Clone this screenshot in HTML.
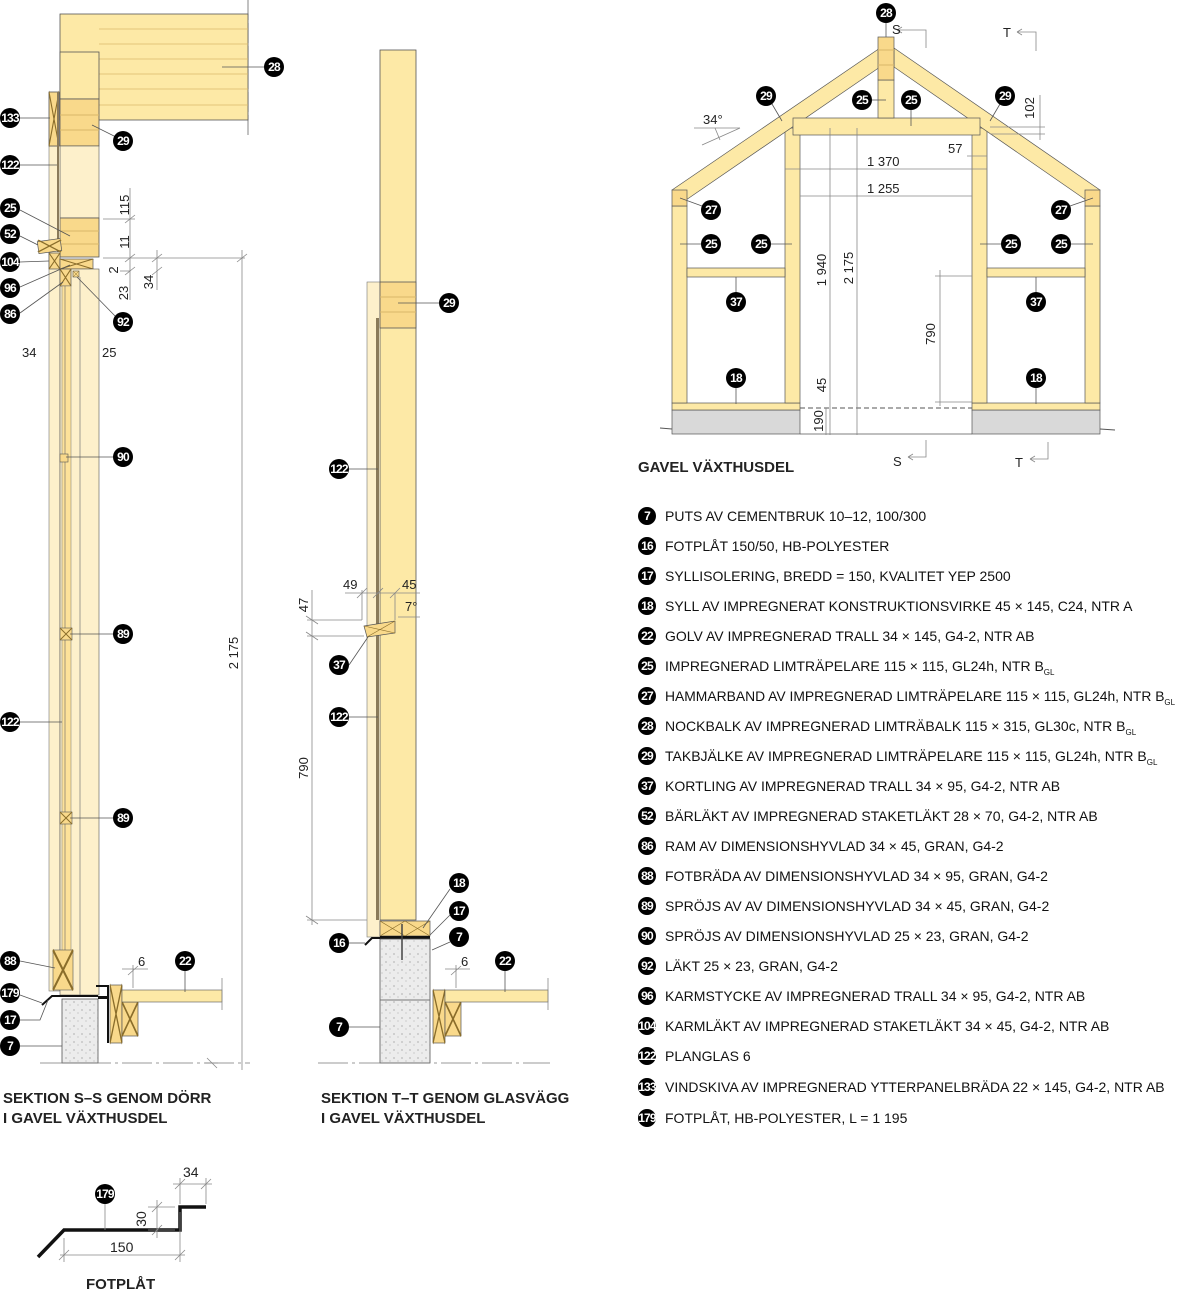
<!DOCTYPE html>
<html><head><meta charset="utf-8"><style>
html,body{margin:0;padding:0;background:#fff}
svg{display:block}
text{font-family:"Liberation Sans",sans-serif}
.n{fill:#000}
.nt{fill:#fff;font-weight:bold;font-size:12px;text-anchor:middle;letter-spacing:-0.8px}
.d{stroke:#888;stroke-width:0.8;fill:none}
.dt{font-size:13px;fill:#222}
.o{stroke:#555;stroke-width:0.8}
.lg{font-size:14px;fill:#111}
.t{font-size:15px;font-weight:bold;fill:#222}
.l{stroke:#333;stroke-width:0.8;fill:none}
</style></head><body>
<svg width="1200" height="1298" viewBox="0 0 1200 1298" xmlns="http://www.w3.org/2000/svg">
<defs>
<pattern id="conc" width="8" height="8" patternUnits="userSpaceOnUse"><rect width="8" height="8" fill="#ececec"/><circle cx="2" cy="2" r="0.6" fill="#888"/><circle cx="6" cy="5" r="0.5" fill="#999"/></pattern>
<g id="xb"><path d="M0 0L1 1M1 0L0 1" stroke="#8a6d2a" stroke-width="0.08"/></g>
</defs>

<!-- ===== SECTION S-S ===== -->
<line x1="248" y1="0" x2="248" y2="135" stroke="#666" stroke-width="0.8" stroke-dasharray="20 3"/>
<rect x="60" y="14" width="188" height="106" fill="#fde9a6" stroke="#555" stroke-width="0.8"/>
<g stroke="#d9b86a" stroke-width="0.7"><line x1="99" y1="29" x2="248" y2="29"/><line x1="99" y1="44" x2="248" y2="44"/><line x1="99" y1="59" x2="248" y2="59"/><line x1="99" y1="74" x2="248" y2="74"/><line x1="99" y1="89" x2="248" y2="89"/><line x1="99" y1="105" x2="248" y2="105"/></g>
<rect x="60" y="52" width="39" height="47" fill="#fde9a6" stroke="#555" stroke-width="0.8"/>
<rect x="60" y="99" width="39" height="47" fill="#f9d98b" stroke="#555" stroke-width="0.8"/>
<line x1="60" y1="115" x2="99" y2="115" stroke="#d9b86a"/><line x1="60" y1="130" x2="99" y2="130" stroke="#d9b86a"/>
<rect x="60" y="146" width="39" height="72" fill="#fdf0cb" stroke="#555" stroke-width="0.6"/>
<rect x="60" y="218" width="39" height="39" fill="#f9d98b" stroke="#555" stroke-width="0.8"/>
<line x1="60" y1="231" x2="99" y2="231" stroke="#d9b86a"/><line x1="60" y1="244" x2="99" y2="244" stroke="#d9b86a"/>
<rect x="49" y="146" width="11" height="845" fill="#fdf0cb" stroke="#777" stroke-width="0.6"/>
<rect x="49" y="92" width="10" height="54" fill="#f9d98b" stroke="#555" stroke-width="0.8"/>
<use href="#xb" transform="translate(49,92) scale(10,54)"/>
<rect x="57" y="92" width="2" height="160" fill="#8a7a5a"/>
<rect x="38" y="240" width="23" height="12" fill="#f9d98b" stroke="#555" stroke-width="0.7" transform="rotate(-8 50 246)"/>
<use href="#xb" transform="translate(38,240) scale(23,12) rotate(0)"/>
<rect x="49" y="253" width="11" height="16" fill="#f9d98b" stroke="#555" stroke-width="0.7"/><use href="#xb" transform="translate(49,253) scale(11,16)"/>
<rect x="60" y="259" width="33" height="10" fill="#f9d98b" stroke="#555" stroke-width="0.7"/><use href="#xb" transform="translate(60,259) scale(33,10)"/>
<rect x="60" y="269" width="39" height="726" fill="#fdf0cb" stroke="#555" stroke-width="0.6"/>
<rect x="60" y="269" width="11" height="17" fill="#f9d98b" stroke="#555" stroke-width="0.7"/><use href="#xb" transform="translate(60,269) scale(11,17)"/>
<rect x="73" y="271" width="6" height="6" fill="#f9d98b" stroke="#555" stroke-width="0.6"/><use href="#xb" transform="translate(73,271) scale(6,6)"/>
<line x1="80" y1="277" x2="80" y2="995" stroke="#777" stroke-width="0.7"/>
<rect x="62" y="286" width="9" height="665" fill="#fde29a" stroke="#777" stroke-width="0.5"/>
<line x1="65" y1="286" x2="65" y2="951" stroke="#666" stroke-width="0.6"/>
<rect x="60" y="454" width="8" height="8" fill="#f9d98b" stroke="#555" stroke-width="0.6"/>
<rect x="60" y="628" width="12" height="12" fill="#f9d98b" stroke="#555" stroke-width="0.6"/><use href="#xb" transform="translate(60,628) scale(12,12)"/>
<rect x="60" y="812" width="12" height="12" fill="#f9d98b" stroke="#555" stroke-width="0.6"/><use href="#xb" transform="translate(60,812) scale(12,12)"/>
<rect x="53" y="950" width="20" height="40" fill="#f9d98b" stroke="#555" stroke-width="0.6"/><use href="#xb" transform="translate(53,950) scale(20,40)"/>
<rect x="62" y="999" width="36" height="64" fill="url(#conc)" stroke="#555" stroke-width="0.8"/>
<path d="M42 1005 L52 996 L98 996" stroke="#111" stroke-width="2" fill="none"/>
<path d="M96 986 L108 986 L108 1043" stroke="#111" stroke-width="2" fill="none"/>
<rect x="98" y="996" width="10" height="3" fill="#111"/>
<rect x="110" y="985" width="12" height="58" fill="#f9d98b" stroke="#555" stroke-width="0.7"/><use href="#xb" transform="translate(110,985) scale(12,58)"/>
<rect x="122" y="1002" width="16" height="34" fill="#f9d98b" stroke="#555" stroke-width="0.7"/><use href="#xb" transform="translate(122,1002) scale(16,34)"/>
<rect x="122" y="990" width="100" height="12" fill="#fde9a6" stroke="#555" stroke-width="0.6"/>
<line x1="222" y1="978" x2="222" y2="1010" class="d"/>
<line x1="40" y1="1063" x2="250" y2="1063" stroke="#777" stroke-width="0.8" stroke-dasharray="30 4 3 4"/>
<!-- dims S-S -->
<g class="d">
<line x1="130" y1="188" x2="130" y2="300"/><line x1="103" y1="219" x2="135" y2="219"/><line x1="103" y1="258" x2="245" y2="258"/><line x1="120" y1="271" x2="130" y2="271"/>
<line x1="125" y1="223" x2="135" y2="215"/><line x1="125" y1="262" x2="135" y2="254"/><line x1="125" y1="275" x2="135" y2="267"/>
<line x1="157" y1="250" x2="157" y2="290"/><line x1="152" y1="262" x2="162" y2="254"/><line x1="152" y1="275" x2="162" y2="267"/>
<line x1="242" y1="250" x2="242" y2="1070"/><line x1="237" y1="262" x2="247" y2="254"/><line x1="205" y1="1063" x2="218" y2="1063"/><line x1="207" y1="1058" x2="217" y2="1068"/>
<line x1="128" y1="975" x2="138" y2="966"/><line x1="122" y1="969" x2="148" y2="969"/><line x1="133" y1="965" x2="133" y2="988"/>
</g>
<g class="dt">
<text transform="translate(129,205) rotate(-90)" text-anchor="middle">115</text>
<text transform="translate(129,242) rotate(-90)" text-anchor="middle">11</text>
<text transform="translate(118,270) rotate(-90)" text-anchor="middle">2</text>
<text transform="translate(128,293) rotate(-90)" text-anchor="middle">23</text>
<text transform="translate(153,282) rotate(-90)" text-anchor="middle">34</text>
<text x="22" y="357">34</text><text x="102" y="357">25</text>
<text transform="translate(238,653) rotate(-90)" text-anchor="middle">2 175</text>
<text x="138" y="966">6</text>
</g>
<!-- leaders S-S -->
<g class="o">
<line x1="20" y1="118" x2="50" y2="118"/><line x1="92" y1="125" x2="116" y2="137"/><line x1="20" y1="165" x2="57" y2="165"/>
<line x1="20" y1="210" x2="70" y2="236"/><line x1="20" y1="236" x2="38" y2="245"/><line x1="20" y1="262" x2="49" y2="261"/>
<line x1="20" y1="287" x2="70" y2="265"/><line x1="20" y1="313" x2="63" y2="282"/><line x1="77" y1="277" x2="117" y2="318"/>
<line x1="66" y1="457" x2="113" y2="457"/><line x1="70" y1="634" x2="113" y2="634"/><line x1="70" y1="818" x2="113" y2="818"/>
<line x1="20" y1="722" x2="62" y2="722"/><line x1="20" y1="961" x2="55" y2="968"/><line x1="20" y1="995" x2="42" y2="1003"/>
<polyline points="20,1020 40,1020 48,1000" fill="none"/><line x1="20" y1="1046" x2="62" y2="1046"/>
<line x1="185" y1="970" x2="185" y2="992"/><line x1="222" y1="67" x2="264" y2="67"/>
</g>

<!-- ===== SECTION T-T ===== -->
<rect x="380" y="50" width="36" height="870" fill="#fde9a6" stroke="#555" stroke-width="0.8"/>
<rect x="367" y="282" width="13" height="655" fill="#fdf0cb" stroke="#777" stroke-width="0.6"/>
<rect x="376" y="318" width="3" height="602" fill="#8a7a5a"/>
<rect x="380" y="282" width="36" height="46" fill="#f9d98b" stroke="#555" stroke-width="0.8"/>
<line x1="380" y1="297" x2="416" y2="297" stroke="#d9b86a"/><line x1="380" y1="312" x2="416" y2="312" stroke="#d9b86a"/>
<polygon points="364,626 395,621 395,633 367,637" fill="#f9d98b" stroke="#555" stroke-width="0.7"/><path d="M364 626L395 633M395 621L367 637" stroke="#8a6d2a" stroke-width="0.6"/>
<rect x="380" y="921" width="50" height="15" fill="#f9d98b" stroke="#555" stroke-width="0.7"/><path d="M380 921L405 936M405 921L380 936M405 921L430 936M430 921L405 936" stroke="#8a6d2a" stroke-width="0.6"/>
<rect x="380" y="936" width="50" height="3" fill="#111"/>
<rect x="380" y="939" width="50" height="124" fill="url(#conc)" stroke="#555" stroke-width="0.8"/>
<line x1="380" y1="1000" x2="430" y2="1000" stroke="#777"/>
<line x1="402" y1="924" x2="402" y2="960" stroke="#444" stroke-width="1.5"/>
<path d="M365 945 L372 938 L380 938" stroke="#111" stroke-width="2" fill="none"/>
<rect x="433" y="990" width="12" height="53" fill="#f9d98b" stroke="#555" stroke-width="0.7"/><use href="#xb" transform="translate(433,990) scale(12,53)"/>
<rect x="445" y="1002" width="16" height="34" fill="#f9d98b" stroke="#555" stroke-width="0.7"/><use href="#xb" transform="translate(445,1002) scale(16,34)"/>
<rect x="445" y="990" width="103" height="12" fill="#fde9a6" stroke="#555" stroke-width="0.6"/>
<line x1="548" y1="978" x2="548" y2="1010" class="d"/>
<line x1="318" y1="1063" x2="550" y2="1063" stroke="#777" stroke-width="0.8" stroke-dasharray="30 4 3 4"/>
<g class="d">
<line x1="312" y1="590" x2="312" y2="925"/><line x1="307" y1="620" x2="362" y2="620"/><line x1="307" y1="636" x2="364" y2="636"/><line x1="307" y1="920" x2="367" y2="920"/>
<line x1="306" y1="616" x2="318" y2="624"/><line x1="306" y1="632" x2="318" y2="640"/><line x1="306" y1="916" x2="318" y2="924"/>
<line x1="345" y1="593" x2="420" y2="593"/><line x1="362" y1="590" x2="362" y2="620"/><line x1="395" y1="593" x2="395" y2="620"/>
<line x1="357" y1="598" x2="367" y2="588"/><line x1="373" y1="598" x2="383" y2="588"/><line x1="390" y1="598" x2="400" y2="588"/>
<line x1="398" y1="617" x2="420" y2="617"/>
<line x1="451" y1="975" x2="461" y2="966"/><line x1="445" y1="969" x2="470" y2="969"/><line x1="456" y1="965" x2="456" y2="988"/>
</g>
<g class="dt">
<text x="343" y="589">49</text><text x="402" y="589">45</text><text x="405" y="611">7°</text>
<text transform="translate(308,605) rotate(-90)" text-anchor="middle">47</text>
<text transform="translate(308,768) rotate(-90)" text-anchor="middle">790</text>
<text x="461" y="966">6</text>
</g>
<g class="o">
<line x1="398" y1="303" x2="440" y2="303"/><line x1="349" y1="469" x2="378" y2="469"/><line x1="349" y1="665" x2="368" y2="637"/>
<line x1="349" y1="717" x2="378" y2="717"/><line x1="450" y1="889" x2="423" y2="928"/><line x1="450" y1="915" x2="430" y2="935"/>
<line x1="450" y1="942" x2="432" y2="950"/><line x1="349" y1="943" x2="365" y2="943"/><line x1="349" y1="1027" x2="380" y2="1027"/>
<line x1="505" y1="970" x2="505" y2="992"/>
</g>

<!-- ===== GAVEL ===== -->
<line x1="660" y1="428" x2="672" y2="429" stroke="#555"/><line x1="1100" y1="429" x2="1115" y2="430" stroke="#555"/>
<rect x="672" y="410" width="128" height="24" fill="#d9d9d9" stroke="#555" stroke-width="0.7"/>
<rect x="972" y="410" width="128" height="24" fill="#d9d9d9" stroke="#555" stroke-width="0.7"/>
<line x1="800" y1="434" x2="972" y2="434" stroke="#555" stroke-width="0.7"/>
<line x1="800" y1="408" x2="972" y2="408" stroke="#555" stroke-dasharray="5 3"/>
<g fill="#fde9a6" stroke="#555" stroke-width="0.7">
<rect x="672" y="403" width="128" height="7"/><rect x="972" y="403" width="128" height="7"/>
<rect x="672" y="206" width="15" height="197"/><rect x="1085" y="206" width="15" height="197"/>
<rect x="785" y="128" width="15" height="275"/><rect x="972" y="128" width="15" height="275"/>
<rect x="687" y="268" width="98" height="9"/><rect x="987" y="268" width="98" height="9"/>
<polygon points="672,190 880,48 880,67 686,200"/>
<polygon points="1100,190 894,48 894,67 1086,200"/>
<rect x="793" y="118" width="187" height="17"/>
<rect x="878" y="80" width="16" height="38"/>
</g>
<rect x="878" y="37" width="16" height="43" fill="#f9d98b" stroke="#555" stroke-width="0.7"/>
<line x1="878" y1="50" x2="894" y2="50" stroke="#d9b86a"/><line x1="878" y1="65" x2="894" y2="65" stroke="#d9b86a"/>
<rect x="672" y="190" width="15" height="16" fill="#f9d98b" stroke="#555" stroke-width="0.7"/>
<rect x="1085" y="190" width="15" height="16" fill="#f9d98b" stroke="#555" stroke-width="0.7"/>
<g class="d">
<line x1="785" y1="169" x2="987" y2="169"/><line x1="800" y1="196" x2="972" y2="196"/>
<line x1="830" y1="128" x2="830" y2="435"/><line x1="857" y1="128" x2="857" y2="435"/>
<line x1="940" y1="270" x2="940" y2="406"/><line x1="935" y1="276" x2="972" y2="276"/><line x1="935" y1="402" x2="972" y2="402"/>
<line x1="826" y1="408" x2="826" y2="435"/><line x1="967" y1="156" x2="987" y2="156"/>
<line x1="990" y1="127" x2="1045" y2="127"/><line x1="990" y1="134" x2="1045" y2="134"/><line x1="1040" y1="95" x2="1040" y2="140"/>
<line x1="694" y1="128" x2="740" y2="128"/><line x1="702" y1="145" x2="740" y2="128"/><line x1="715" y1="128" x2="720" y2="140"/>
<path d="M897 30 L926 30 L926 48 M897 30 l5 -3 M897 30 l5 3"/>
<path d="M1017 32 L1036 32 L1036 51 M1017 32 l5 -3 M1017 32 l5 3"/>
<path d="M908 457 L926 457 L926 440 M908 457 l5 -3 M908 457 l5 3"/>
<path d="M1030 459 L1048 459 L1048 442 M1030 459 l5 -3 M1030 459 l5 3"/>
</g>
<g class="dt">
<text x="867" y="166">1 370</text><text x="867" y="193">1 255</text><text x="948" y="153">57</text>
<text transform="translate(826,270) rotate(-90)" text-anchor="middle">1 940</text>
<text transform="translate(853,268) rotate(-90)" text-anchor="middle">2 175</text>
<text transform="translate(935,334) rotate(-90)" text-anchor="middle">790</text>
<text transform="translate(826,385) rotate(-90)" text-anchor="middle">45</text>
<text transform="translate(823,421) rotate(-90)" text-anchor="middle">190</text>
<text transform="translate(1034,108) rotate(-90)" text-anchor="middle">102</text>
<text x="703" y="124">34°</text>
<text x="892" y="34">S</text><text x="1003" y="37">T</text><text x="893" y="466">S</text><text x="1015" y="467">T</text>
</g>
<g class="o">
<line x1="886" y1="22" x2="886" y2="37"/><line x1="772" y1="104" x2="782" y2="121"/><line x1="1000" y1="104" x2="990" y2="121"/>
<line x1="872" y1="100" x2="886" y2="100"/><line x1="911" y1="110" x2="911" y2="126"/>
<line x1="680" y1="198" x2="702" y2="206"/><line x1="1093" y1="198" x2="1070" y2="206"/>
<line x1="680" y1="244" x2="701" y2="244"/><line x1="771" y1="244" x2="792" y2="244"/><line x1="980" y1="244" x2="1001" y2="244"/><line x1="1071" y1="244" x2="1093" y2="244"/>
<line x1="736" y1="277" x2="736" y2="292"/><line x1="1036" y1="277" x2="1036" y2="292"/>
<line x1="736" y1="388" x2="736" y2="404"/><line x1="1036" y1="388" x2="1036" y2="404"/>
</g>
<text class="t" x="638" y="472">GAVEL VÄXTHUSDEL</text>

<!-- ===== FOTPLÅT ===== -->
<path d="M38 1257 L64 1230 L180 1230 L180 1207 L206 1207" stroke="#111" stroke-width="3.5" fill="none"/>
<g class="d">
<line x1="105" y1="1204" x2="105" y2="1230"/>
<line x1="60" y1="1255" x2="185" y2="1255"/><line x1="64" y1="1238" x2="64" y2="1262"/><line x1="180" y1="1212" x2="180" y2="1262"/>
<line x1="59" y1="1260" x2="69" y2="1250"/><line x1="175" y1="1260" x2="185" y2="1250"/>
<line x1="148" y1="1207" x2="175" y2="1207"/><line x1="148" y1="1230" x2="175" y2="1230"/><line x1="157" y1="1200" x2="157" y2="1238"/>
<line x1="152" y1="1212" x2="162" y2="1202"/><line x1="152" y1="1235" x2="162" y2="1225"/>
<line x1="173" y1="1184" x2="212" y2="1184"/><line x1="180" y1="1178" x2="180" y2="1204"/><line x1="206" y1="1178" x2="206" y2="1204"/>
<line x1="175" y1="1189" x2="185" y2="1179"/><line x1="201" y1="1189" x2="211" y2="1179"/>
</g>
<g class="dt"><text x="183" y="1177" font-size="14">34</text><text transform="translate(146,1219) rotate(-90)" text-anchor="middle" font-size="14">30</text><text x="110" y="1252" font-size="14">150</text></g>
<text class="t" x="86" y="1289">FOTPLÅT</text>

<text class="t" x="3" y="1103">SEKTION S–S GENOM DÖRR</text>
<text class="t" x="3" y="1123">I GAVEL VÄXTHUSDEL</text>
<text class="t" x="321" y="1103">SEKTION T–T GENOM GLASVÄGG</text>
<text class="t" x="321" y="1123">I GAVEL VÄXTHUSDEL</text>

<!-- ===== NUMBER CIRCLES ===== -->
<g>
<circle class="n" cx="274" cy="67" r="10"/><text class="nt" x="274" y="71">28</text>
<circle class="n" cx="10" cy="118" r="10"/><text class="nt" x="10" y="122" font-size="9">133</text>
<circle class="n" cx="123" cy="141" r="10"/><text class="nt" x="123" y="145">29</text>
<circle class="n" cx="10" cy="165" r="10"/><text class="nt" x="10" y="169" font-size="9">122</text>
<circle class="n" cx="10" cy="208" r="10"/><text class="nt" x="10" y="212">25</text>
<circle class="n" cx="10" cy="234" r="10"/><text class="nt" x="10" y="238">52</text>
<circle class="n" cx="10" cy="262" r="10"/><text class="nt" x="10" y="266" font-size="9">104</text>
<circle class="n" cx="10" cy="288" r="10"/><text class="nt" x="10" y="292">96</text>
<circle class="n" cx="10" cy="314" r="10"/><text class="nt" x="10" y="318">86</text>
<circle class="n" cx="123" cy="322" r="10"/><text class="nt" x="123" y="326">92</text>
<circle class="n" cx="123" cy="457" r="10"/><text class="nt" x="123" y="461">90</text>
<circle class="n" cx="123" cy="634" r="10"/><text class="nt" x="123" y="638">89</text>
<circle class="n" cx="10" cy="722" r="10"/><text class="nt" x="10" y="726" font-size="9">122</text>
<circle class="n" cx="123" cy="818" r="10"/><text class="nt" x="123" y="822">89</text>
<circle class="n" cx="10" cy="961" r="10"/><text class="nt" x="10" y="965">88</text>
<circle class="n" cx="10" cy="993" r="10"/><text class="nt" x="10" y="997" font-size="9">179</text>
<circle class="n" cx="10" cy="1020" r="10"/><text class="nt" x="10" y="1024">17</text>
<circle class="n" cx="10" cy="1046" r="10"/><text class="nt" x="10" y="1050">7</text>
<circle class="n" cx="185" cy="961" r="10"/><text class="nt" x="185" y="965">22</text>
<circle class="n" cx="449" cy="303" r="10"/><text class="nt" x="449" y="307">29</text>
<circle class="n" cx="339" cy="469" r="10"/><text class="nt" x="339" y="473" font-size="9">122</text>
<circle class="n" cx="339" cy="665" r="10"/><text class="nt" x="339" y="669">37</text>
<circle class="n" cx="339" cy="717" r="10"/><text class="nt" x="339" y="721" font-size="9">122</text>
<circle class="n" cx="459" cy="883" r="10"/><text class="nt" x="459" y="887">18</text>
<circle class="n" cx="459" cy="911" r="10"/><text class="nt" x="459" y="915">17</text>
<circle class="n" cx="459" cy="937" r="10"/><text class="nt" x="459" y="941">7</text>
<circle class="n" cx="339" cy="943" r="10"/><text class="nt" x="339" y="947">16</text>
<circle class="n" cx="339" cy="1027" r="10"/><text class="nt" x="339" y="1031">7</text>
<circle class="n" cx="505" cy="961" r="10"/><text class="nt" x="505" y="965">22</text>
<circle class="n" cx="886" cy="13" r="10"/><text class="nt" x="886" y="17">28</text>
<circle class="n" cx="766" cy="96" r="10"/><text class="nt" x="766" y="100">29</text>
<circle class="n" cx="862" cy="100" r="10"/><text class="nt" x="862" y="104">25</text>
<circle class="n" cx="911" cy="100" r="10"/><text class="nt" x="911" y="104">25</text>
<circle class="n" cx="1005" cy="96" r="10"/><text class="nt" x="1005" y="100">29</text>
<circle class="n" cx="711" cy="210" r="10"/><text class="nt" x="711" y="214">27</text>
<circle class="n" cx="1061" cy="210" r="10"/><text class="nt" x="1061" y="214">27</text>
<circle class="n" cx="711" cy="244" r="10"/><text class="nt" x="711" y="248">25</text>
<circle class="n" cx="761" cy="244" r="10"/><text class="nt" x="761" y="248">25</text>
<circle class="n" cx="1011" cy="244" r="10"/><text class="nt" x="1011" y="248">25</text>
<circle class="n" cx="1061" cy="244" r="10"/><text class="nt" x="1061" y="248">25</text>
<circle class="n" cx="736" cy="302" r="10"/><text class="nt" x="736" y="306">37</text>
<circle class="n" cx="1036" cy="302" r="10"/><text class="nt" x="1036" y="306">37</text>
<circle class="n" cx="736" cy="378" r="10"/><text class="nt" x="736" y="382">18</text>
<circle class="n" cx="1036" cy="378" r="10"/><text class="nt" x="1036" y="382">18</text>
<circle class="n" cx="105" cy="1194" r="10"/><text class="nt" x="105" y="1198" font-size="9">179</text>
</g>

<!-- ===== LEGEND ===== -->
<g>
<circle class="n" cx="647" cy="516" r="9"/><text class="nt" x="647" y="520">7</text><text class="lg" x="665" y="521">PUTS AV CEMENTBRUK 10–12, 100/300</text>
<circle class="n" cx="647" cy="546" r="9"/><text class="nt" x="647" y="550">16</text><text class="lg" x="665" y="551">FOTPLÅT 150/50, HB-POLYESTER</text>
<circle class="n" cx="647" cy="576" r="9"/><text class="nt" x="647" y="580">17</text><text class="lg" x="665" y="581">SYLLISOLERING, BREDD = 150, KVALITET YEP 2500</text>
<circle class="n" cx="647" cy="606" r="9"/><text class="nt" x="647" y="610">18</text><text class="lg" x="665" y="611">SYLL AV IMPREGNERAT KONSTRUKTIONSVIRKE 45 × 145, C24, NTR A</text>
<circle class="n" cx="647" cy="636" r="9"/><text class="nt" x="647" y="640">22</text><text class="lg" x="665" y="641">GOLV AV IMPREGNERAD TRALL 34 × 145, G4-2, NTR AB</text>
<circle class="n" cx="647" cy="666" r="9"/><text class="nt" x="647" y="670">25</text><text class="lg" x="665" y="671">IMPREGNERAD LIMTRÄPELARE 115 × 115, GL24h, NTR B<tspan font-size="8" dy="4">GL</tspan></text>
<circle class="n" cx="647" cy="696" r="9"/><text class="nt" x="647" y="700">27</text><text class="lg" x="665" y="701" textLength="510" lengthAdjust="spacingAndGlyphs">HAMMARBAND AV IMPREGNERAD LIMTRÄPELARE 115 × 115, GL24h, NTR B<tspan font-size="8" dy="4">GL</tspan></text>
<circle class="n" cx="647" cy="726" r="9"/><text class="nt" x="647" y="730">28</text><text class="lg" x="665" y="731">NOCKBALK AV IMPREGNERAD LIMTRÄBALK 115 × 315, GL30c, NTR B<tspan font-size="8" dy="4">GL</tspan></text>
<circle class="n" cx="647" cy="756" r="9"/><text class="nt" x="647" y="760">29</text><text class="lg" x="665" y="761">TAKBJÄLKE AV IMPREGNERAD LIMTRÄPELARE 115 × 115, GL24h, NTR B<tspan font-size="8" dy="4">GL</tspan></text>
<circle class="n" cx="647" cy="786" r="9"/><text class="nt" x="647" y="790">37</text><text class="lg" x="665" y="791">KORTLING AV IMPREGNERAD TRALL 34 × 95, G4-2, NTR AB</text>
<circle class="n" cx="647" cy="816" r="9"/><text class="nt" x="647" y="820">52</text><text class="lg" x="665" y="821">BÄRLÄKT AV IMPREGNERAD STAKETLÄKT 28 × 70, G4-2, NTR AB</text>
<circle class="n" cx="647" cy="846" r="9"/><text class="nt" x="647" y="850">86</text><text class="lg" x="665" y="851">RAM AV DIMENSIONSHYVLAD 34 × 45, GRAN, G4-2</text>
<circle class="n" cx="647" cy="876" r="9"/><text class="nt" x="647" y="880">88</text><text class="lg" x="665" y="881">FOTBRÄDA AV DIMENSIONSHYVLAD 34 × 95, GRAN, G4-2</text>
<circle class="n" cx="647" cy="906" r="9"/><text class="nt" x="647" y="910">89</text><text class="lg" x="665" y="911">SPRÖJS AV AV DIMENSIONSHYVLAD 34 × 45, GRAN, G4-2</text>
<circle class="n" cx="647" cy="936" r="9"/><text class="nt" x="647" y="940">90</text><text class="lg" x="665" y="941">SPRÖJS AV DIMENSIONSHYVLAD 25 × 23, GRAN, G4-2</text>
<circle class="n" cx="647" cy="966" r="9"/><text class="nt" x="647" y="970">92</text><text class="lg" x="665" y="971">LÄKT 25 × 23, GRAN, G4-2</text>
<circle class="n" cx="647" cy="996" r="9"/><text class="nt" x="647" y="1000">96</text><text class="lg" x="665" y="1001">KARMSTYCKE AV IMPREGNERAD TRALL 34 × 95, G4-2, NTR AB</text>
<circle class="n" cx="647" cy="1026" r="9"/><text class="nt" x="647" y="1030" font-size="8">104</text><text class="lg" x="665" y="1031">KARMLÄKT AV IMPREGNERAD STAKETLÄKT 34 × 45, G4-2, NTR AB</text>
<circle class="n" cx="647" cy="1056" r="9"/><text class="nt" x="647" y="1060" font-size="8">122</text><text class="lg" x="665" y="1061">PLANGLAS 6</text>
<circle class="n" cx="647" cy="1087" r="9"/><text class="nt" x="647" y="1091" font-size="8">133</text><text class="lg" x="665" y="1092">VINDSKIVA AV IMPREGNERAD YTTERPANELBRÄDA 22 × 145, G4-2, NTR AB</text>
<circle class="n" cx="647" cy="1118" r="9"/><text class="nt" x="647" y="1122" font-size="8">179</text><text class="lg" x="665" y="1123">FOTPLÅT, HB-POLYESTER, L = 1 195</text>
</g>
</svg>
</body></html>
